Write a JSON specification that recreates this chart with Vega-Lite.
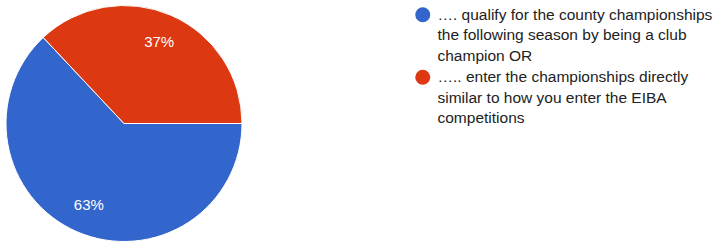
{
  "$schema": "https://vega.github.io/schema/vega-lite/v6.json",
  "width": 248,
  "height": 247,
  "autosize": {"type": "none"},
  "padding": {"left": 0, "top": 0, "right": 472, "bottom": 0},
  "background": "white",
  "config": {"view": {"stroke": null}, "style": {"guide-label": {"lineHeight": 20.6}}},
  "data": {
    "values": [
      {"answer": "…. qualify for the county championships|the following season by being a club|champion OR", "share": 0.63, "order": 1},
      {"answer": "….. enter the championships directly|similar to how you enter the EIBA|competitions", "share": 0.37, "order": 2}
    ]
  },
  "encoding": {
    "theta": {"field": "share", "type": "quantitative", "stack": true, "scale": {"range": [1.5708, 7.85398]}},
    "order": {"field": "order", "type": "quantitative"}
  },
  "layer": [
    {
      "mark": {"type": "arc", "outerRadius": 118, "stroke": "white", "strokeWidth": 1},
      "encoding": {
        "color": {
          "field": "answer",
          "type": "nominal",
          "sort": null,
          "scale": {
            "domain": [
              "…. qualify for the county championships|the following season by being a club|champion OR",
              "….. enter the championships directly|similar to how you enter the EIBA|competitions"
            ],
            "range": ["#3366cc", "#dc3912"]
          },
          "legend": {
            "orient": "none",
            "legendX": 415,
            "legendY": 7,
            "title": null,
            "padding": 0,
            "labelExpr": "split(datum.label, '|')",
            "labelFont": "Liberation Sans",
            "labelFontSize": 15.5,
            "labelColor": "#222222",
            "labelLimit": 400,
            "labelOffset": 7,
            "symbolType": "circle",
            "symbolSize": 225,
            "symbolStrokeWidth": 0,
            "symbolOpacity": 1,
            "rowPadding": 4.5
          }
        }
      }
    },
    {
      "mark": {"type": "text", "radius": 88.5, "font": "Liberation Sans", "fontSize": 15, "color": "white"},
      "encoding": {
        "text": {"field": "share", "type": "quantitative", "format": ".0%"}
      }
    }
  ]
}
